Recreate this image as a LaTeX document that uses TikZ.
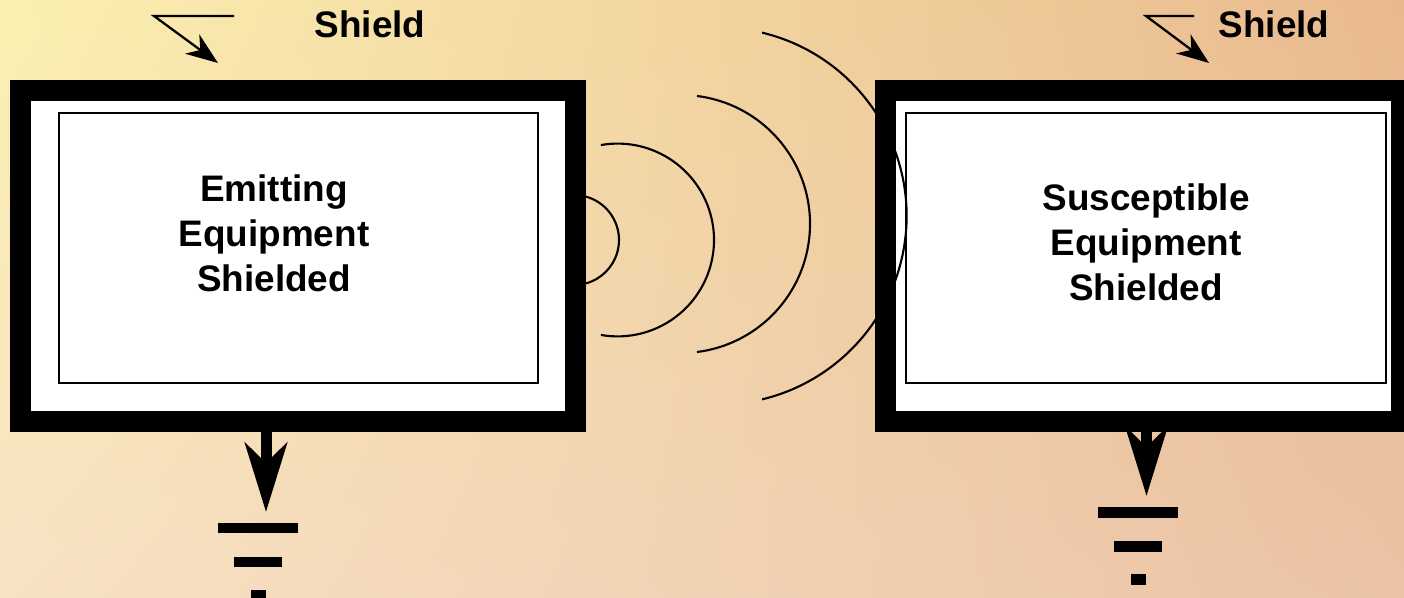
\documentclass[tikz,border=0pt]{standalone}
\usepackage{fontspec}
\setsansfont{Liberation Sans}
\usetikzlibrary{positioning,arrows.meta,backgrounds,shadings}
\definecolor{bgnw}{HTML}{FBF0B0}
\definecolor{bgne}{HTML}{E9B98E}
\definecolor{bgsw}{HTML}{F7E2C4}
\definecolor{bgse}{HTML}{EBC2A4}

\begin{document}
\begin{tikzpicture}[
  every node/.style={font=\sffamily\bfseries\fontsize{10.5}{12.8}\selectfont},
  shieldwall/.style={draw=black,line width=0.21cm,fill=white,minimum height=3.31cm,inner sep=0pt},
  panel/.style={draw=black,line width=0.7pt,fill=white,minimum height=2.70cm,inner sep=0pt},
  caption/.style={align=center,inner sep=0pt},
  wave/.style={line width=0.6pt},
  pointer/.style={line width=0.65pt,-{Stealth[length=3.2mm,width=2.4mm,inset=1mm]}},
  earthing/.style={line width=1.1mm,-{Stealth[length=6.9mm,width=4.2mm,inset=2mm]}},
  gndbar/.style={fill=black,inner sep=0pt,minimum height=1.05mm}
]
\useasboundingbox (0,0) rectangle (14.04,-5.98);

\node[shieldwall,minimum width=5.55cm] (emitter) at (2.98,-2.56) {};
\node[panel,minimum width=4.79cm] (emitpanel) at (2.985,-2.48) {};
\node[caption] (emittxt) at (2.74,-2.33) {Emitting\\Equipment\\Shielded};

\node[shieldwall,minimum width=5.16cm] (victim) at (11.435,-2.56) {};
\node[panel,minimum width=4.80cm] (victpanel) at (11.46,-2.48) {};
\node[caption] (victtxt) at (11.46,-2.42) {Susceptible\\Equipment\\Shielded};

\node[anchor=base] (shieldA) at (3.70,-0.38) {Shield};
\node[anchor=base] (shieldB) at (12.74,-0.38) {Shield};

\coordinate (tailA) at (2.34,-0.16);
\coordinate (bendA) at (1.54,-0.16);
\coordinate (tipA) at (2.18,-0.63);
\draw[pointer] (tailA) -- (bendA) -- (tipA);
\coordinate (tailB) at (11.94,-0.16);
\coordinate (bendB) at (11.46,-0.16);
\coordinate (tipB) at (12.09,-0.63);
\draw[pointer] (tailB) -- (bendB) -- (tipB);

\draw[wave] ([shift={(74.5:0.45)}]5.74,-2.40) arc[start angle=74.5,end angle=-74.5,radius=0.45];
\draw[wave] ([shift={(100:0.964)}]6.176,-2.40) arc[start angle=100,end angle=-100,radius=0.964];
\draw[wave] ([shift={(82.9:1.29)}]6.81,-2.24) arc[start angle=82.9,end angle=-82.9,radius=1.29];
\draw[wave] ([shift={(76.5:1.886)}]7.18,-2.16) arc[start angle=76.5,end angle=-76.5,radius=1.886];

\node[gndbar,minimum width=0.80cm] (gndA1) at (2.58,-5.28) {};
\node[gndbar,minimum width=0.48cm,below=0.22cm of gndA1] (gndA2) {};
\node[gndbar,minimum width=0.15cm,below=0.21cm of gndA2] (gndA3) {};
\node[gndbar,minimum width=0.80cm] (gndB1) at (11.38,-5.125) {};
\node[gndbar,minimum width=0.48cm,below=0.22cm of gndB1] (gndB2) {};
\node[gndbar,minimum width=0.15cm,below=0.21cm of gndB2] (gndB3) {};

\coordinate (earthA) at (2.66,-5.12);
\coordinate (earthB) at (11.465,-4.96);

\begin{scope}[on background layer]
\shade[upper left=bgnw,upper right=bgne,lower left=bgsw,lower right=bgse]
  (0,0) rectangle (14.04,-5.98);
\draw[earthing] (emitter.south -| earthA) -- (earthA);
\draw[earthing] (victim.south -| earthB) -- (earthB);
\end{scope}
\end{tikzpicture}
\end{document}
